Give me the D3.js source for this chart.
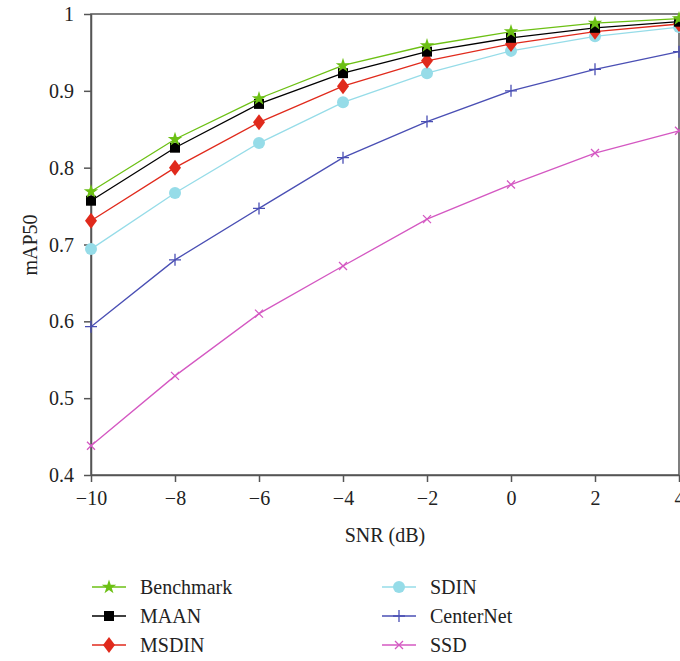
<!DOCTYPE html>
<html><head><meta charset="utf-8">
<script src="https://cdn.jsdelivr.net/npm/d3@7"></script>
<style>body{margin:0;background:#fff}svg{display:block}text{font-family:"Liberation Serif","DejaVu Serif",serif;fill:#222}</style>
</head><body><svg id="c" width="680" height="661"></svg>
<script>
const snr = [-10, -8, -6, -4, -2, 0, 2, 4];
const xTicks = [-10, -8, -6, -4, -2, 0, 2, 4];
const yTicks = [0.4, 0.5, 0.6, 0.7, 0.8, 0.9, 1];
const seriesNames = ["Benchmark", "MAAN", "MSDIN", "SDIN", "CenterNet", "SSD"];
const benchmark = [0.769, 0.837, 0.890, 0.933, 0.959, 0.977, 0.988, 0.994];
const maan      = [0.757, 0.826, 0.883, 0.923, 0.951, 0.969, 0.982, 0.990];
const msdin     = [0.731, 0.800, 0.859, 0.906, 0.939, 0.961, 0.977, 0.987];
const sdin      = [0.694, 0.767, 0.832, 0.885, 0.923, 0.952, 0.971, 0.983];
const centernet = [0.593, 0.680, 0.747, 0.813, 0.860, 0.900, 0.928, 0.951];
const ssd       = [0.438, 0.529, 0.610, 0.672, 0.733, 0.778, 0.819, 0.848];
const colors  = ["#6cc014", "#000000", "#e02a1c", "#96dce8", "#4a4fb4", "#d458c2"];
const markers = ["star", "square", "diamond", "circle", "plus", "cross"];
const values = [benchmark, maan, msdin, sdin, centernet, ssd];

const svg = d3.select("#c");
const x = d3.scaleLinear().domain([-10, 4]).range([91, 679]);
const y = d3.scaleLinear().domain([0.4, 1]).range([475, 14]);
const FS = 20;

// frame
svg.append("rect").attr("x", 91).attr("y", 14).attr("width", 588).attr("height", 461)
  .attr("fill", "none").attr("stroke", "#555").attr("stroke-width", 1.5);

const xa = svg.append("g").attr("transform", "translate(0,475)")
  .call(d3.axisBottom(x).tickValues(xTicks).tickSize(7).tickSizeOuter(0).tickFormat(d => d < 0 ? "\u2212" + Math.abs(d) : d));
const ya = svg.append("g").attr("transform", "translate(91,0)")
  .call(d3.axisLeft(y).tickValues(yTicks).tickSize(7).tickSizeOuter(0).tickFormat(d => d === 1 ? "1" : d3.format(".1f")(d)));
[xa, ya].forEach(a => {
  a.attr("font-family", null).attr("font-size", null);
  a.select(".domain").attr("stroke", "#555").attr("stroke-width", 1.5);
  a.selectAll(".tick line").attr("stroke", "#555").attr("stroke-width", 1.5);
  a.selectAll("text").attr("font-size", FS).attr("fill", "#222");
});
xa.selectAll("text").attr("dy", "1.0em");
ya.selectAll("text").attr("x", -17).attr("dy", "0.33em");

svg.append("text").attr("x", 385).attr("y", 542).attr("text-anchor", "middle").attr("font-size", FS).text("SNR (dB)");
svg.append("text").attr("transform", "translate(37,245) rotate(-90)").attr("text-anchor", "middle").attr("font-size", FS).text("mAP50");

function drawMarker(g, type, cx, cy, color) {
  if (type === "star") {
    g.append("path").attr("d", d3.symbol(d3.symbolStar, 65)()).attr("transform", `translate(${cx},${cy})`).attr("fill", color);
  } else if (type === "square") {
    g.append("rect").attr("x", cx - 5).attr("y", cy - 5).attr("width", 10).attr("height", 10).attr("fill", color);
  } else if (type === "diamond") {
    g.append("path").attr("d", `M${cx},${cy-8}L${cx+6},${cy}L${cx},${cy+8}L${cx-6},${cy}Z`).attr("fill", color);
  } else if (type === "circle") {
    g.append("circle").attr("cx", cx).attr("cy", cy).attr("r", 6).attr("fill", color);
  } else if (type === "plus") {
    g.append("path").attr("d", `M${cx-6},${cy}H${cx+6}M${cx},${cy-6}V${cy+6}`).attr("stroke", color).attr("stroke-width", 1.3);
  } else if (type === "cross") {
    g.append("path").attr("d", `M${cx-4},${cy-4}L${cx+4},${cy+4}M${cx-4},${cy+4}L${cx+4},${cy-4}`).attr("stroke", color).attr("stroke-width", 1.3);
  }
}

const line = d3.line().x((d, i) => x(snr[i])).y(d => y(d));
for (let s = values.length - 1; s >= 0; s--) {
  const g = svg.append("g");
  g.append("path").datum(values[s]).attr("d", line).attr("fill", "none").attr("stroke", colors[s]).attr("stroke-width", 1.3);
  values[s].forEach((v, i) => drawMarker(g, markers[s], x(snr[i]), y(v), colors[s]));
}

// legend
const legRows = [587, 616, 645];
const legCols = [{lx: 92, tx: 140}, {lx: 382, tx: 430}];
seriesNames.forEach((name, s) => {
  const col = legCols[Math.floor(s / 3)], ry = legRows[s % 3];
  const g = svg.append("g");
  g.append("line").attr("x1", col.lx).attr("x2", col.lx + 34).attr("y1", ry).attr("y2", ry).attr("stroke", colors[s]).attr("stroke-width", 1.3);
  drawMarker(g, markers[s], col.lx + 17, ry, colors[s]);
  g.append("text").attr("x", col.tx).attr("y", ry + 7).attr("font-size", FS).text(name);
});
</script></body></html>
